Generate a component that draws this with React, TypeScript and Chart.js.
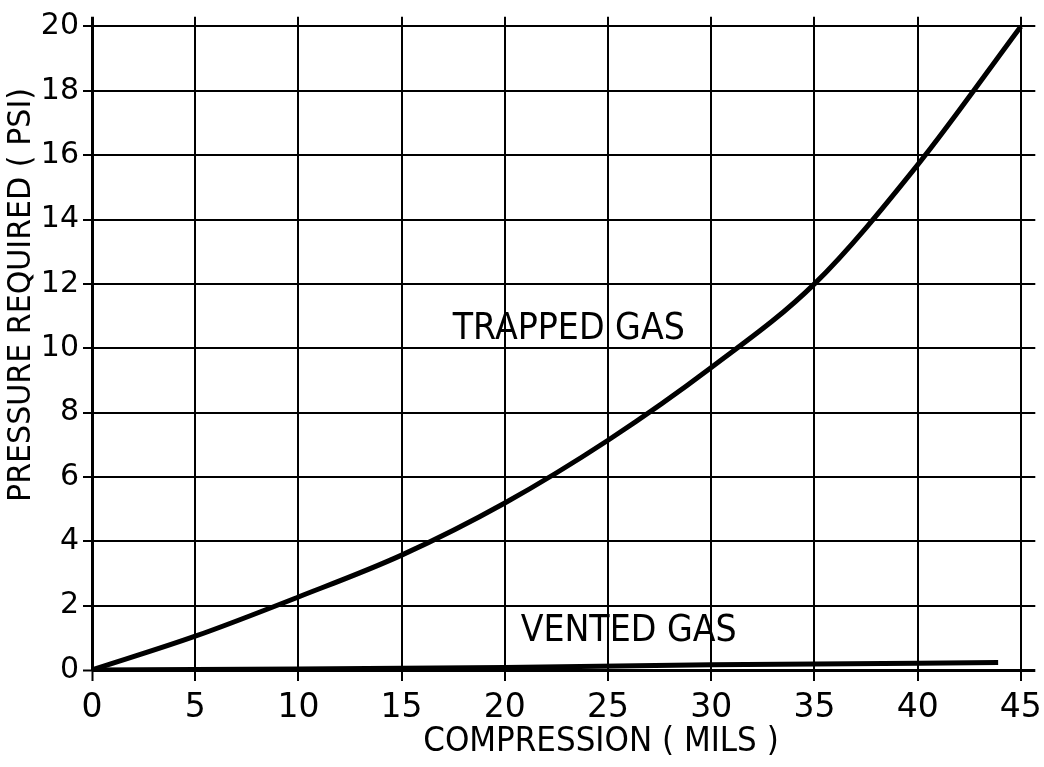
import React, { useEffect, useRef } from "react";
import { Chart, registerables } from "chart.js";

Chart.register(...registerables);

const trappedX = [0, 5, 10, 15, 20, 25, 30, 35, 40, 45];
const trappedY = [0, 1.05, 2.27, 3.57, 5.19, 7.14, 9.4, 12.0, 15.7, 20];
const ventedX = [0, 10, 20, 30, 40, 43.9];
const ventedY = [0, 0.03, 0.08, 0.16, 0.21, 0.23];
const xTicks = [0, 5, 10, 15, 20, 25, 30, 35, 40, 45];
const yTicks = [0, 2, 4, 6, 8, 10, 12, 14, 16, 18, 20];
const labelTexts = ["TRAPPED GAS", "VENTED GAS"];
const labelX = [23.1, 26.0];
const labelY = [10.6, 1.2];
const xTitle = "COMPRESSION ( MILS )";
const yTitle = "PRESSURE REQUIRED ( PSI)";

const FONT = "'DejaVu Sans', sans-serif";

function drawStretched(ctx: any, text: string, x: number, y: number, size: number, sx: number, rot: number) {
  ctx.save();
  ctx.translate(x, y);
  ctx.rotate(rot);
  ctx.scale(sx, 1);
  ctx.font = `${size}px ${FONT}`;
  ctx.textAlign = "center";
  ctx.textBaseline = "middle";
  ctx.fillStyle = "#000";
  ctx.fillText(text, 0, 0);
  ctx.restore();
}

const labelPlugin = {
  id: "curveLabels",
  afterDatasetsDraw(chart: any) {
    const { ctx, scales } = chart;
    labelTexts.forEach((t, i) => {
      drawStretched(ctx, t, scales.x.getPixelForValue(labelX[i]), scales.y.getPixelForValue(labelY[i]), 37, 0.9, 0);
    });
    drawStretched(ctx, xTitle, 601, 742, 33, 0.94, 0);
    drawStretched(ctx, yTitle, 22, 295, 31.5, 0.955, -Math.PI / 2);
  },
};

export default function App() {
  const ref = useRef<HTMLCanvasElement | null>(null);
  useEffect(() => {
    if (!ref.current) return;
    const gridWidth = (c: any) => (c.tick && c.tick.value === 0 ? 3 : 2);
    const chart = new Chart(ref.current, {
      type: "scatter",
      data: {
        datasets: [
          {
            label: "Trapped gas",
            data: trappedX.map((x, i) => ({ x, y: trappedY[i] })),
            showLine: true,
            borderColor: "#000",
            borderWidth: 5,
            pointRadius: 0,
            cubicInterpolationMode: "monotone",
          },
          {
            label: "Vented gas",
            data: ventedX.map((x, i) => ({ x, y: ventedY[i] })),
            showLine: true,
            borderColor: "#000",
            borderWidth: 5,
            pointRadius: 0,
            tension: 0,
          },
        ],
      },
      options: {
        responsive: false,
        animation: false,
        layout: { autoPadding: false, padding: { top: 16.8, right: 8.7, left: 0, bottom: 0 } },
        plugins: { legend: { display: false }, tooltip: { enabled: false } },
        scales: {
          x: {
            type: "linear",
            min: 0,
            max: 45.7,
            afterBuildTicks: (s: any) => {
              s.ticks = xTicks.map((v) => ({ value: v }));
            },
            afterFit: (s: any) => {
              s.height = 97;
              s.paddingLeft = 0;
              s.paddingRight = 0;
            },
            ticks: {
              color: "#000",
              font: { family: FONT, size: 33 },
              padding: 8,
              maxRotation: 0,
            },
            grid: { color: "#000", lineWidth: gridWidth, tickLength: 11, tickColor: "#000", tickWidth: 2 },
            border: { display: false },
          },
          y: {
            type: "linear",
            min: 0,
            max: 20.3,
            afterBuildTicks: (s: any) => {
              s.ticks = yTicks.map((v) => ({ value: v }));
            },
            afterFit: (s: any) => {
              s.width = 92;
              s.paddingTop = 0;
              s.paddingBottom = 0;
            },
            ticks: {
              color: "#000",
              font: { family: FONT, size: 30 },
              padding: 4,
            },
            grid: { color: "#000", lineWidth: gridWidth, tickLength: 9, tickColor: "#000", tickWidth: 2 },
            border: { display: false },
          },
        },
      },
      plugins: [labelPlugin],
    } as any);
    return () => chart.destroy();
  }, []);
  return (
    <div style={{ position: "absolute", left: 0, top: 0, width: 1044, height: 767, background: "#fff" }}>
      <canvas ref={ref} width={1044} height={767} />
    </div>
  );
}
